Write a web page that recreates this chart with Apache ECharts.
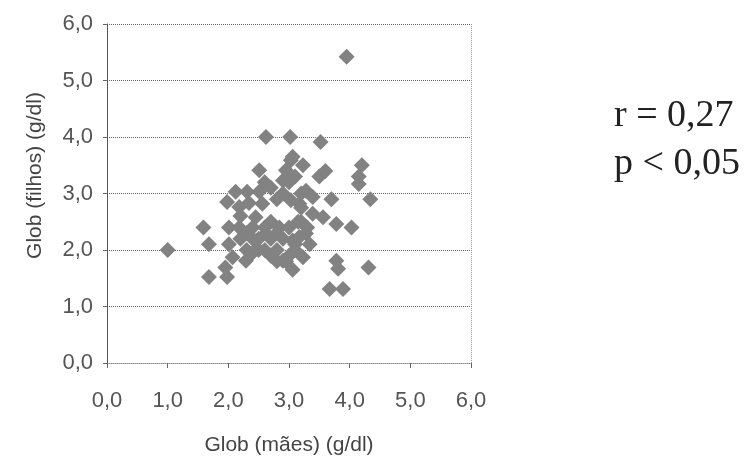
<!DOCTYPE html>
<html>
<head>
<meta charset="utf-8">
<script src="https://cdn.jsdelivr.net/npm/echarts@6/dist/echarts.min.js"></script>
<style>
  html, body { margin: 0; padding: 0; background: #fff; }
  #chart { width: 746px; height: 467px; }
</style>
</head>
<body>
<div id="chart"></div>
<script>
// Glob (mães) x Glob (filhos), g/dl
var maes = [1.0, 3.95, 2.62, 3.02, 3.52, 2.51, 3.03, 3.06, 3.23, 4.2, 4.15, 4.15,
  3.5, 3.6, 2.12, 1.98, 2.31, 2.51, 2.56, 2.45, 2.9, 2.95, 3.28, 2.9,
  1.59, 2.01, 2.18, 1.68, 2.01, 2.07, 2.29, 2.43, 2.62, 2.84, 3.06, 3.28,
  2.9, 3.23, 2.95, 1.68, 1.98, 1.95, 2.18, 2.34, 3.03, 3.17, 3.39, 3.7,
  4.34, 3.39, 3.56, 3.78, 4.03, 3.17, 3.34, 3.15, 3.78, 3.81, 4.31, 3.67,
  3.89, 3.06, 2.2, 2.3, 2.5, 2.6, 2.7, 2.8, 2.9, 3.0, 3.1, 2.7,
  2.8, 3.0, 2.8, 2.7, 2.6, 3.1, 3.0, 3.2,
  2.4, 2.5, 2.3, 2.6, 2.7, 2.8, 3.2, 3.3, 3.2, 2.4, 2.2, 3.1];
var filhos = [2.0, 5.42, 4.0, 4.0, 3.91, 3.41, 3.59, 3.65, 3.5, 3.5, 3.3, 3.17,
  3.3, 3.4, 3.03, 2.85, 3.03, 3.03, 2.82, 2.58, 3.23, 3.41, 3.05, 3.0,
  2.4, 2.4, 2.4, 2.1, 2.1, 1.87, 1.81, 2.17, 2.29, 2.4, 2.17, 2.29,
  1.81, 1.87, 1.8, 1.52, 1.52, 1.69, 2.76, 2.83, 2.88, 2.82, 2.94, 2.9,
  2.9, 2.64, 2.58, 2.46, 2.4, 2.23, 2.1, 2.5, 1.81, 1.67, 1.69, 1.31,
  1.31, 1.65, 2.2, 2.0, 2.0, 2.4, 2.2, 2.0, 2.2, 1.9, 2.0, 1.9,
  1.8, 2.4, 2.9, 3.1, 3.2, 3.3, 3.2, 3.0,
  2.4, 2.2, 2.3, 2.0, 2.5, 2.3, 2.5, 2.4, 2.75, 1.95, 2.6, 2.1];
var ticks = [0, 1, 2, 3, 4, 5, 6];
var stats = ['r = 0,27', 'p < 0,05'];

var points = maes.map(function (v, i) { return [v, filhos[i]]; });
var fmt = function (v) { return v.toFixed(1).replace('.', ','); };
// only the right border (x = 6,0) is drawn as a vertical line
var vLines = ticks.map(function (t, i) { return i === ticks.length - 1 ? '#999' : 'rgba(0,0,0,0)'; });

var chart = echarts.init(document.getElementById('chart'));
chart.setOption({
  animation: false,
  backgroundColor: '#fff',
  grid: { left: 107, right: 275, top: 24, bottom: 104 },
  xAxis: {
    type: 'value', min: ticks[0], max: ticks[ticks.length - 1], interval: 1,
    name: 'Glob (mães) (g/dl)', nameLocation: 'middle', nameGap: 72,
    nameTextStyle: { fontFamily: 'Liberation Sans', fontSize: 21, color: '#444' },
    axisLine: { show: true, lineStyle: { color: '#888', type: 'dotted' } },
    axisTick: { show: true, length: 5, lineStyle: { color: '#666' } },
    axisLabel: { fontFamily: 'Liberation Sans', fontSize: 22, color: '#555', margin: 27, formatter: fmt },
    splitLine: { show: true, lineStyle: { color: vLines, type: 'dotted' } }
  },
  yAxis: {
    type: 'value', min: ticks[0], max: ticks[ticks.length - 1], interval: 1,
    name: 'Glob (filhos) (g/dl)', nameLocation: 'middle', nameGap: 61,
    nameTextStyle: { fontFamily: 'Liberation Sans', fontSize: 21, color: '#444', padding: [0, 0, 0, 36] },
    axisLine: { show: true, lineStyle: { color: '#555' } },
    axisTick: { show: true, length: 4, lineStyle: { color: '#666' } },
    axisLabel: { fontFamily: 'Liberation Sans', fontSize: 22, color: '#555', margin: 14, formatter: fmt },
    splitLine: { show: true, lineStyle: { color: '#666', type: 'dotted' } }
  },
  graphic: [
    { type: 'text', left: 614, top: 97, style: { text: stats[0], font: '38px "Liberation Serif"', fill: '#222' } },
    { type: 'text', left: 614, top: 145, style: { text: stats[1], font: '38px "Liberation Serif"', fill: '#222' } }
  ],
  series: [{
    type: 'scatter',
    data: points,
    symbol: 'diamond',
    symbolSize: 16,
    itemStyle: { color: '#828282', opacity: 1 }
  }]
});
</script>
</body>
</html>
